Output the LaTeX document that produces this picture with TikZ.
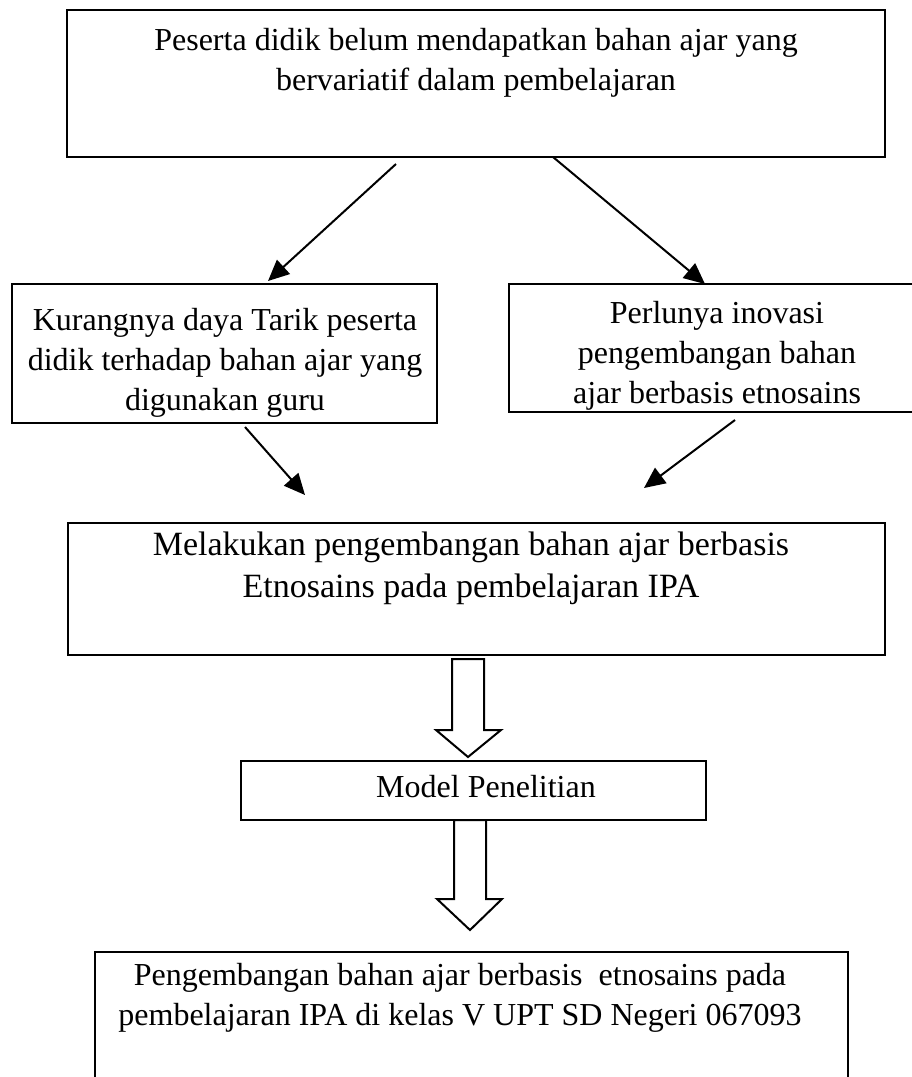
\documentclass[tikz,border=0pt]{standalone}
\usepackage{fontspec}
\setmainfont{Liberation Serif}
\usetikzlibrary{arrows.meta}

\tikzset{
  box/.style={draw, line width=2pt, inner sep=0pt},
  txt/.style={align=center, inner sep=0pt, anchor=north,
              font=\fontsize{32}{40}\selectfont},
  link/.style={line width=2pt, -{Triangle[length=21pt,width=19pt]}},
  hollow/.style={draw, line width=2pt, line join=miter, fill=white},
}

\begin{document}
\begin{tikzpicture}[x=1pt, y=-1pt]
  \useasboundingbox (0,0) rectangle (912,1077);

  % boxes
  \node[box, minimum width=818, minimum height=147] (masalah) at (476,83.5) {};
  \node[box, minimum width=425, minimum height=139] (kurang) at (224.5,353.5) {};
  \node[box, minimum width=418, minimum height=128] (inovasi) at (718,348) {};
  \node[box, minimum width=817, minimum height=132] (kembang) at (476.5,589) {};
  \node[box, minimum width=465, minimum height=59] (model) at (473.5,790.5) {};
  \node[box, minimum width=753, minimum height=160] (hasil) at (471.5,1032) {};

  % texts
  \node[txt] (tmasalah) at (476,28)
    {Peserta didik belum mendapatkan bahan ajar yang\\ bervariatif dalam pembelajaran};
  \node[txt] (tkurang) at (225,308)
    {Kurangnya daya Tarik peserta\\ didik terhadap bahan ajar yang\\ digunakan guru};
  \node[txt] (tinovasi) at (717,301)
    {Perlunya inovasi\\ pengembangan bahan\\ ajar berbasis etnosains};
  \node[txt, font=\fontsize{34}{42}\selectfont] (tkembang) at (471,532)
    {Melakukan pengembangan bahan ajar berbasis\\ Etnosains pada pembelajaran IPA};
  \node[txt] (tmodel) at (486,775) {Model Penelitian};
  \node[txt] (thasil) at (460,963)
    {Pengembangan bahan ajar berbasis\ \ etnosains pada\\ pembelajaran IPA di kelas V UPT SD Negeri 067093};

  % arrow ends
  \coordinate (a1) at (396,164);
  \coordinate (b1) at (268,281);
  \coordinate (a2) at (553,157);
  \coordinate (b2) at (705,284);
  \coordinate (a3) at (245,427);
  \coordinate (b3) at (305,495);
  \coordinate (a4) at (735,420);
  \coordinate (b4) at (644,488);

  \draw[link] (a1) -- (b1);
  \draw[link] (a2) -- (b2);
  \draw[link] (a3) -- (b3);
  \draw[link] (a4) -- (b4);

  % hollow block arrows
  \draw[hollow] (452,659) -- (452,730) -- (436,730) -- (468,757) --
                (501,730) -- (484,730) -- (484,659) -- cycle;
  \draw[hollow] (454,820) -- (454,899) -- (437,899) -- (470,930) --
                (502,899) -- (486,899) -- (486,820) -- cycle;
\end{tikzpicture}
\end{document}
